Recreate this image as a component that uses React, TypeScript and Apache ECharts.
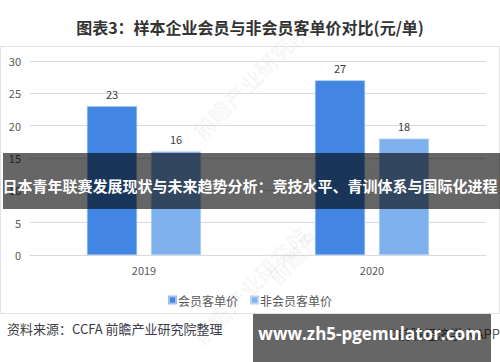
import React, { useEffect, useRef } from "react";
import * as echarts from "echarts";

const categories = ["2019", "2020"];
const memberValues = [23, 27];
const nonMemberValues = [16, 18];
const seriesNames = ["会员客单价", "非会员客单价"];
const yTicks = { min: 0, max: 30, interval: 5 };
const titleText = "图表3：样本企业会员与非会员客单价对比(元/单)";
const bannerText = "日本青年联赛发展现状与未来趋势分析：竞技水平、青训体系与国际化进程";
const sourceLabel = "资料来源：";
const sourceText = "CCFA 前瞻产业研究院整理";
const urlText = "www.zh5-pgemulator.com";
const appText = "©前瞻经济学人APP";
const watermark = "前瞻产业研究院";

const FONT = '"Noto Sans CJK SC", "Noto Sans", sans-serif';

export default function App() {
  const ref = useRef<HTMLDivElement>(null);
  useEffect(() => {
    document.body.style.margin = "0";
    const chart = echarts.init(ref.current!, null, { renderer: "svg" });
    chart.setOption({
      animation: false,
      backgroundColor: "#ffffff",
      textStyle: { fontFamily: FONT },
      grid: { left: 30, right: 14, top: 61, bottom: 107 },
      legend: {
        top: 289,
        left: "center",
        itemWidth: 7,
        itemHeight: 7,
        itemGap: 12,
        icon: "rect",
        textStyle: { color: "#595959", fontSize: 12, padding: [0, 0, 0, -3] },
        data: seriesNames,
      },
      xAxis: {
        type: "category",
        data: categories,
        axisLine: { lineStyle: { color: "#d9d9d9" } },
        axisTick: { show: false },
        axisLabel: { color: "#595959", fontSize: 11, margin: 9 },
      },
      yAxis: {
        type: "value",
        min: yTicks.min,
        max: yTicks.max,
        interval: yTicks.interval,
        axisLine: { show: false },
        axisTick: { show: false },
        axisLabel: { color: "#595959", fontSize: 11, margin: 9 },
        splitLine: { lineStyle: { color: "#d9d9d9" } },
      },
      series: [
        {
          name: seriesNames[0],
          type: "bar",
          data: memberValues,
          barWidth: 50,
          barGap: "28%",
          itemStyle: { color: "#4285e2", borderColor: "#9cc0f0", borderWidth: 0.6 },
          label: { show: true, position: "top", distance: 7, color: "#404040", fontSize: 11 },
        },
        {
          name: seriesNames[1],
          type: "bar",
          data: nonMemberValues,
          barWidth: 50,
          itemStyle: { color: "#7fb0ee", borderColor: "#b9d4f6", borderWidth: 0.6 },
          label: { show: true, position: "top", distance: 7, color: "#404040", fontSize: 11 },
        },
      ],
      graphic: [
        {
          type: "rect",
          z: -1,
          shape: { x: 0.5, y: 46.5, width: 499, height: 267 },
          style: { fill: "none", stroke: "#e2e2e2", lineWidth: 1 },
        },
        {
          type: "text",
          x: 250,
          y: 27,
          style: {
            text: titleText,
            fontFamily: FONT,
            fontSize: 16,
            fontWeight: "bold",
            fill: "#333333",
            align: "center",
            verticalAlign: "middle",
          },
        },
        {
          type: "text",
          x: 250,
          y: 80,
          rotation: Math.PI / 4,
          z: 0,
          style: { text: watermark, fontFamily: FONT, fontSize: 22, fontWeight: "bold", fill: "rgba(0,0,0,0.05)", align: "center", verticalAlign: "middle" },
        },
        {
          type: "text",
          x: 250,
          y: 285,
          rotation: Math.PI / 4,
          z: 0,
          style: { text: watermark, fontFamily: FONT, fontSize: 22, fontWeight: "bold", fill: "rgba(0,0,0,0.05)", align: "center", verticalAlign: "middle" },
        },
        {
          type: "text",
          x: 325,
          y: 225,
          rotation: Math.PI / 4,
          z: 0,
          style: { text: watermark, fontFamily: FONT, fontSize: 22, fontWeight: "bold", fill: "rgba(0,0,0,0.05)", align: "center", verticalAlign: "middle" },
        },
        {
          type: "rect",
          z: 100,
          shape: { x: 3, y: 153, width: 497, height: 56 },
          style: { fill: "rgba(0,0,0,0.6)" },
        },
        {
          type: "text",
          z: 101,
          x: 250,
          y: 185,
          style: {
            text: bannerText,
            fontFamily: FONT,
            fontSize: 15,
            fontWeight: "bold",
            fill: "#ffffff",
            align: "center",
            verticalAlign: "middle",
          },
        },
        {
          type: "text",
          x: 7,
          y: 328,
          style: {
            text: sourceLabel,
            fontFamily: FONT,
            fontSize: 13,
            fill: "#404040",
            align: "left",
            verticalAlign: "middle",
          },
        },
        {
          type: "text",
          x: 72,
          y: 328,
          style: {
            text: sourceText,
            fontFamily: FONT,
            fontSize: 13,
            fill: "#3a3a4a",
            align: "left",
            verticalAlign: "middle",
          },
        },
        {
          type: "text",
          x: 500,
          y: 333,
          style: {
            text: appText,
            fontFamily: FONT,
            fontSize: 13,
            fill: "#555555",
            align: "right",
            verticalAlign: "middle",
          },
        },
        {
          type: "rect",
          z: 100,
          shape: { x: 253, y: 314, width: 238, height: 48 },
          style: { fill: "rgba(0,0,0,0.6)" },
        },
        {
          type: "text",
          z: 101,
          x: 370,
          y: 333,
          style: {
            text: urlText,
            fontFamily: '"Open Sans", "Noto Sans", sans-serif',
            fontSize: 17,
            fontWeight: "bold",
            fill: "#ffffff",
            align: "center",
            verticalAlign: "middle",
          },
        },
      ],
    });
    return () => chart.dispose();
  }, []);
  return (
    <div style={{ position: "absolute", left: 0, top: 0 }}>
      <div ref={ref} style={{ width: 500, height: 362 }} />
    </div>
  );
}
